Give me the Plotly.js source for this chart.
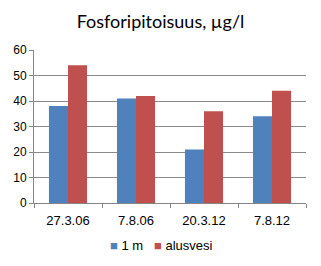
<!DOCTYPE html>
<html>
<head>
<meta charset="utf-8">
<script src="https://cdn.plot.ly/plotly-3.0.1.min.js"></script>
<style>html,body{margin:0;padding:0;background:#fff;}#chart{width:321px;height:266px;}</style>
</head>
<body>
<div id="chart"></div>
<script>
const categories = ["27.3.06", "7.8.06", "20.3.12", "7.8.12"];
const series1Name = "1 m";
const series1 = [38, 41, 21, 34];
const series2Name = "alusvesi";
const series2 = [54, 42, 36, 44];
const yTicks = [0, 10, 20, 30, 40, 50, 60];
const colors = ["#4F81BD", "#C0504D"];

const data = [
  {type: "bar", x: categories, y: series1, name: series1Name, marker: {color: colors[0]}},
  {type: "bar", x: categories, y: series2, name: series2Name, marker: {color: colors[1]}}
];
const legendText = `<span style="color:${colors[0]}">■</span> ${series1Name}   <span style="color:${colors[1]}">■</span> ${series2Name}`;
const layout = {
  width: 321, height: 266,
  margin: {l: 34, r: 15, t: 50, b: 63},
  paper_bgcolor: "#fff", plot_bgcolor: "#fff",
  barmode: "group", bargap: 0.44, bargroupgap: 0,
  showlegend: false,
  title: {text: "Fosforipitoisuus, µg/l", x: 0.5, xanchor: "center", y: 0.918, yanchor: "middle",
          font: {family: "Lato, 'Open Sans', sans-serif", size: 18, color: "#000"}},
  font: {family: "'Liberation Sans', Arial, sans-serif", size: 12, color: "#000"},
  xaxis: {type: "category", tickson: "boundaries", ticks: "outside", ticklen: 4, tickcolor: "#868686",
          showline: true, linecolor: "#868686", linewidth: 1, showgrid: false, zeroline: false,
          ticklabelstandoff: 5, tickfont: {size: 13, color: "#000"}},
  yaxis: {range: [0, 60], tickvals: yTicks, ticks: "outside", ticklen: 4, tickcolor: "#868686",
          showline: true, linecolor: "#868686", linewidth: 1, showgrid: true, gridcolor: "#8a8a8a",
          gridwidth: 1, zeroline: false, tickfont: {size: 12, color: "#000"}},
  annotations: [{text: legendText, xref: "paper", yref: "paper", x: 0.47, y: -0.28,
                 xanchor: "center", yanchor: "middle", showarrow: false,
                 font: {size: 13, color: "#000"}}]
};
Plotly.newPlot("chart", data, layout, {displayModeBar: false, staticPlot: true});
</script>
</body>
</html>
